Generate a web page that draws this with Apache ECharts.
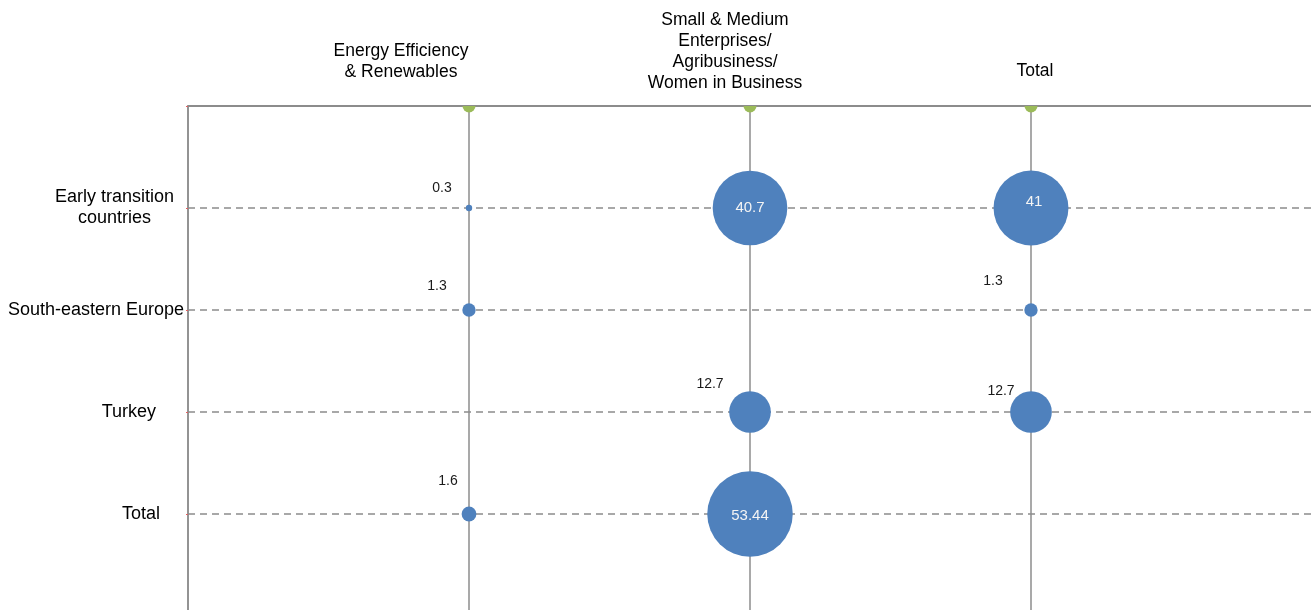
<!DOCTYPE html>
<html>
<head>
<meta charset="utf-8">
<title>Portfolio by region and product line</title>
<script src="https://cdn.jsdelivr.net/npm/echarts@6/dist/echarts.min.js"></script>
<style>
  html, body { margin: 0; padding: 0; background: #ffffff; }
  #chart { width: 1311px; height: 610px; }
</style>
</head>
<body>
<div id="chart"></div>
<script>
// Product lines (columns) and regions (rows)
var productLines = [
  'Energy Efficiency\n& Renewables',
  'Small & Medium\nEnterprises/\nAgribusiness/\nWomen in Business',
  'Total'
];
var regions = ['Early transition countries', 'South-eastern Europe', 'Turkey', 'Total'];
var regionLabels = ['Early transition\ncountries', 'South-eastern Europe', 'Turkey', 'Total'];

// Values per product line, one entry per region (null = no bubble)
var energyEfficiency = [0.3, 1.3, null, 1.6];
var smeAgriWomen     = [40.7, null, 12.7, 53.44];
var totalByRegion    = [41, 1.3, 12.7, null];

var columns = [energyEfficiency, smeAgriWomen, totalByRegion];

// Label placement relative to each bubble's centre, keyed "column,row"
var labelOffsets = {
  '0,0': [-27, -20], '0,1': [-32, -24], '0,3': [-21, -33],
  '1,0': [0, 0],     '1,2': [-40, -28], '1,3': [0, 2],
  '2,0': [3, -6],    '2,1': [-38, -29], '2,2': [-30, -21]
};
// Padding [top, right, bottom, left] of each column heading
var colLabelPad = [[0, 136, 22, 0], [0, 50, 1, 0], [0, 0, 24, 8]];
// Right padding of each row label
var rowLabelPad = [10, 0, 28, 24];

var BLUE = '#4F81BD';
var GREY = '#8c8c8c';
var FONT = 'Liberation Sans, Arial, sans-serif';

// Padded category lists so the columns/rows sit on interior grid lines
var xCats = [''].concat(productLines, ['']);
var yCats = [''].concat(regions, ['']);

var bubbleSeries = columns.map(function (vals, c) {
  var data = [];
  vals.forEach(function (v, r) {
    if (v === null) return;
    var big = v > 20;
    data.push({
      value: [c + 1, r + 1, v],
      label: {
        show: true,
        position: 'inside',
        offset: labelOffsets[c + ',' + r] || [0, 0],
        color: big ? '#f4f4f4' : '#1a1a1a',
        fontSize: big ? 15 : 14,
        fontFamily: FONT,
        formatter: String(v)
      }
    });
  });
  return {
    type: 'scatter',
    name: productLines[c],
    data: data,
    symbolSize: function (d) { return 11.7 * Math.sqrt(d[2]); },
    itemStyle: { color: BLUE, opacity: 1 },
    clip: false,
    z: 3
  };
});

// Green caps where each column meets the top border
var caps = {
  type: 'scatter',
  data: productLines.map(function (_, i) { return [i + 1, 0]; }),
  symbol: 'path://M0,0 A5,5 0 0 0 10,0 Z',
  symbolSize: [13, 6.5],
  symbolOffset: [0, 3.2],
  itemStyle: { color: '#9BBB59', opacity: 1 },
  clip: false,
  silent: true,
  z: 4
};

var yRich = {};
rowLabelPad.forEach(function (p, i) {
  yRich['r' + i] = {
    fontSize: 18, fontFamily: FONT, color: '#000', lineHeight: 21,
    align: 'center', padding: [0, p, 0, 0]
  };
});
var xRich = {};
colLabelPad.forEach(function (p, i) {
  xRich['c' + i] = {
    fontSize: 17.5, fontFamily: FONT, color: '#000', lineHeight: 21,
    align: 'center', padding: p
  };
});

var chart = echarts.init(document.getElementById('chart'), null, { renderer: 'canvas' });
chart.setOption({
  animation: false,
  backgroundColor: '#ffffff',
  grid: { left: 188, right: -1, top: 106, bottom: -6, outerBoundsMode: 'none', containLabel: false },
  xAxis: {
    type: 'category',
    position: 'top',
    data: xCats,
    boundaryGap: false,
    axisLine: { show: true, lineStyle: { color: GREY, width: 2 } },
    axisTick: { show: false },
    axisLabel: {
      interval: 0, margin: 12, align: 'center',
      formatter: function (val) {
        var i = productLines.indexOf(val);
        if (i < 0) return '';
        return '{c' + i + '|' + productLines[i] + '}';
      },
      rich: xRich
    },
    splitLine: { show: true, lineStyle: { color: GREY, width: 1.5, type: 'solid' } }
  },
  yAxis: {
    type: 'category',
    inverse: true,
    data: yCats,
    boundaryGap: false,
    axisLine: { show: true, lineStyle: { color: GREY, width: 1.5 } },
    axisTick: { show: true, length: 2, lineStyle: { color: '#e06060', width: 1 } },
    axisLabel: {
      interval: 0, margin: 4, align: 'right',
      formatter: function (val) {
        var i = regions.indexOf(val);
        if (i < 0) return '';
        return '{r' + i + '|' + regionLabels[i] + '}';
      },
      rich: yRich
    },
    splitLine: { show: true, lineStyle: { color: GREY, width: 1.5, type: [7, 5] } }
  },
  series: [caps].concat(bubbleSeries)
});
</script>
</body>
</html>
